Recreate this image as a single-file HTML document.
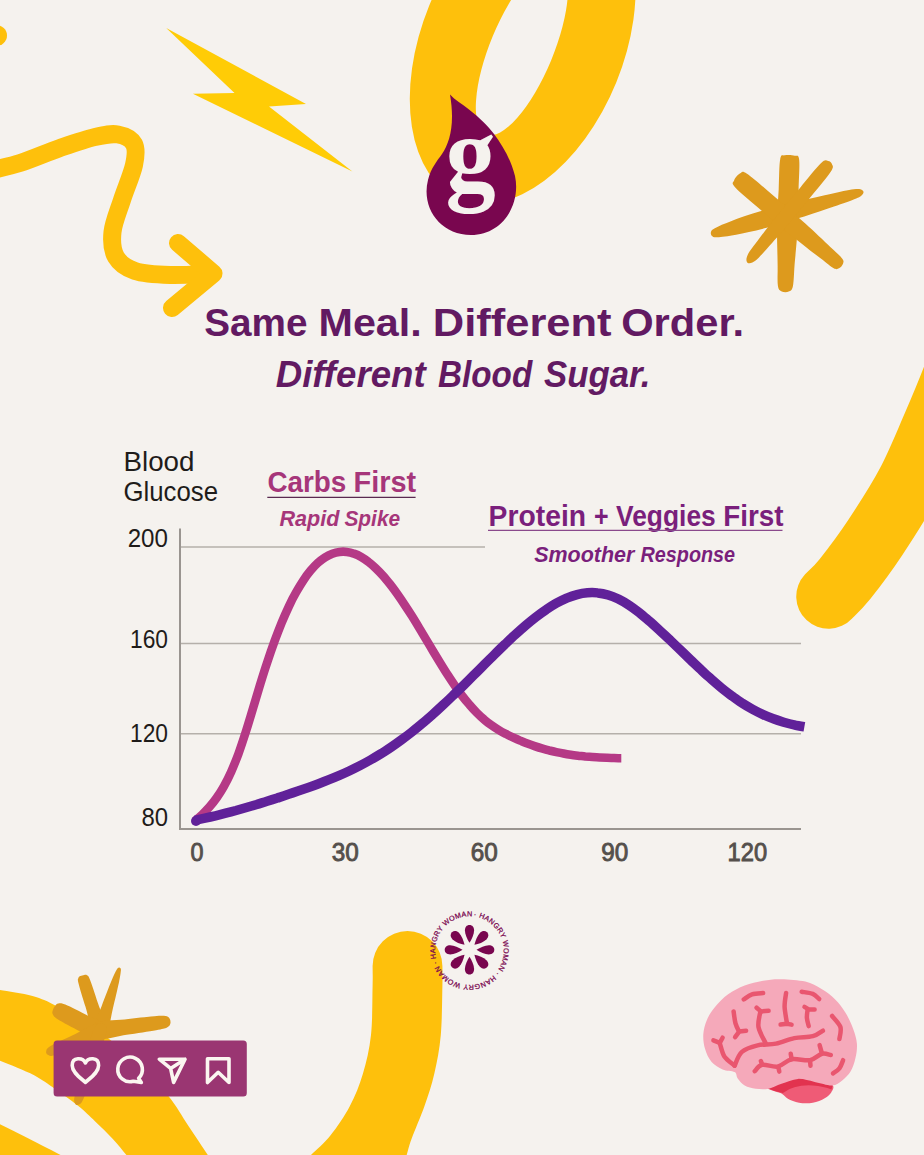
<!DOCTYPE html>
<html lang="en"><head><meta charset="utf-8"><title>Same Meal. Different Order.</title>
<style>
html,body{margin:0;padding:0;background:#f5f2ee;}
body{width:924px;height:1155px;overflow:hidden;font-family:"Liberation Sans",sans-serif;}
svg{display:block}
</style></head><body>
<svg width="924" height="1155" viewBox="0 0 924 1155">
<rect width="924" height="1155" fill="#f5f2ee"/>
<ellipse cx="-4" cy="35.5" rx="11" ry="10.5" fill="#fec00c"/>
<path d="M-12.0 171.0 C-6.7 169.7 8.0 166.8 20.0 163.0 C32.0 159.2 47.5 152.3 60.0 148.0 C72.5 143.7 85.3 139.2 95.0 137.0 C104.7 134.8 111.5 133.3 118.0 134.5 C124.5 135.7 131.3 138.9 134.0 144.0 C136.7 149.1 136.0 155.7 134.0 165.0 C132.0 174.3 125.6 188.8 122.0 200.0 C118.4 211.2 113.5 222.5 112.5 232.0 C111.5 241.5 112.2 250.5 116.0 257.0 C119.8 263.5 126.0 268.0 135.0 271.0 C144.0 274.0 157.3 274.6 170.0 275.0 C182.7 275.4 204.2 273.8 211.0 273.5" fill="none" stroke="#fec00c" stroke-width="18" stroke-linecap="round" stroke-linejoin="round"/>
<path d="M178 243 L213.5 273.5 L172 308" fill="none" stroke="#fec00c" stroke-width="18" stroke-linecap="round" stroke-linejoin="round"/>
<polygon points="166.2,27.9 306,104 269,106.4 352.4,171.4 192.9,93.8 234.5,92.9" fill="#ffcc06"/>
<ellipse cx="522.7" cy="44.1" rx="167.4" ry="101.1" transform="rotate(-67.86 522.7 44.1)" fill="#fec00c"/>
<ellipse cx="521.9" cy="48.3" rx="93.2" ry="31.6" transform="rotate(-67.5 521.9 48.3)" fill="#f5f2ee"/>
<path d="M828.5 596.5 C831.2 593.6 837.2 588.8 845.0 579.0 C852.8 569.2 864.8 553.4 875.3 537.5 C885.8 521.6 898.4 502.4 908.2 483.8 C918.1 465.2 926.6 443.8 934.4 426.0 C942.1 408.2 947.9 394.5 954.7 376.8 C961.5 359.1 971.6 329.5 975.0 320.0" fill="none" stroke="#fec00c" stroke-width="64.5" stroke-linecap="round"/>
<path d="M372.6 966 A34.9 34.9 0 0 1 442.4 966  C442.4 969.3 442.7 974.5 442.4 986.0 C442.1 997.5 442.1 1020.4 440.8 1035.0 C439.5 1049.6 437.0 1062.0 434.3 1073.8 C431.6 1085.6 428.3 1095.2 424.5 1106.0 C420.7 1116.8 414.6 1130.6 411.6 1138.8 C408.6 1147.0 408.1 1150.5 406.7 1155.0 C405.3 1159.5 403.6 1164.2 403.0 1166.0 L300 1166  C301.8 1164.2 305.9 1160.1 311.0 1155.0 C316.1 1149.9 323.9 1143.7 330.4 1135.5 C336.9 1127.3 344.5 1116.3 349.9 1106.0 C355.3 1095.7 359.4 1085.6 362.9 1073.8 C366.4 1062.0 369.4 1049.6 371.0 1035.0 C372.6 1020.4 372.3 997.5 372.6 986.0 C372.9 974.5 372.6 969.3 372.6 966.0 Z" fill="#fec00c"/>
<path d="M-10.0 988.0 C-8.3 988.3 -7.1 988.7 0.0 990.0 C7.1 991.3 22.8 993.2 32.5 996.0 C42.2 998.8 47.1 1001.0 58.4 1007.0 C69.7 1013.0 86.4 1022.2 100.0 1032.0 C113.6 1041.8 128.5 1055.2 140.0 1066.0 C151.5 1076.8 160.8 1086.6 168.8 1096.6 C176.9 1106.6 181.8 1116.1 188.3 1125.8 C194.8 1135.5 203.5 1148.5 207.8 1155.0 C212.1 1161.5 213.0 1163.3 214.0 1165.0 L134 1165  C132.7 1163.3 130.0 1159.4 126.4 1155.0 C122.8 1150.6 117.8 1144.3 112.6 1138.7 C107.4 1133.1 101.0 1126.9 95.2 1121.4 C89.4 1115.9 85.2 1111.6 78.0 1105.8 C70.8 1100.0 59.2 1091.8 52.0 1086.8 C44.8 1081.8 40.4 1078.7 34.6 1075.5 C28.8 1072.3 23.1 1070.2 17.3 1067.7 C11.5 1065.2 4.5 1062.5 0.0 1060.8 C-4.5 1059.1 -8.3 1058.0 -10.0 1057.5 Z" fill="#fec00c"/>
<path d="M-10 1119.5 C8 1128 36 1142 70 1160 L-10 1160Z" fill="#fec00c"/>
<path d="M784.8 155.3 C782.4 155.9 781.2 153.6 780.2 159.3 C779.1 164.9 779.2 178.5 778.7 189.2 C778.1 199.8 777.2 210.7 777.0 223.1 C776.8 235.6 777.5 253.6 777.6 264.0 C777.8 274.5 777.2 281.2 777.9 285.8 C778.6 290.4 779.9 290.4 781.7 291.4 C783.5 292.4 786.8 292.5 788.7 291.6 C790.6 290.8 791.9 290.8 792.9 286.3 C793.9 281.8 793.8 275.0 794.6 264.6 C795.5 254.2 797.3 236.3 798.0 223.9 C798.7 211.4 798.5 200.5 798.6 189.8 C798.8 179.2 799.8 165.6 799.2 159.9 C798.5 154.2 797.2 156.4 794.8 155.7 C792.4 154.9 787.2 154.7 784.8 155.3Z" fill="#dd9a1d"/>
<path d="M712.0 235.9 C713.1 236.8 713.3 237.5 717.3 237.3 C721.3 237.1 727.9 236.3 736.1 234.7 C744.3 233.0 755.3 230.7 766.7 227.7 C778.1 224.6 793.0 219.9 804.3 216.4 C815.5 212.9 825.4 209.5 834.0 206.5 C842.7 203.5 851.4 200.6 856.2 198.5 C861.1 196.4 862.1 195.2 863.0 193.7 C864.0 192.3 863.5 190.6 862.0 189.9 C860.4 189.1 858.9 188.7 853.7 189.3 C848.4 190.0 839.5 192.0 830.6 194.0 C821.6 195.9 811.4 198.2 799.9 201.0 C788.5 203.8 773.3 207.5 762.0 210.8 C750.7 214.1 740.1 217.8 732.2 220.7 C724.3 223.6 718.3 226.3 714.8 228.2 C711.2 230.1 711.4 230.8 711.0 232.1 C710.5 233.4 711.0 235.1 712.0 235.9Z" fill="#dd9a1d"/>
<path d="M734.1 180.4 C733.3 182.7 730.7 182.3 735.3 187.4 C740.0 192.5 752.3 202.6 762.0 210.9 C771.7 219.2 783.8 229.3 793.5 237.2 C803.3 245.1 813.8 253.2 820.5 258.3 C827.2 263.5 830.6 266.6 833.7 268.3 C836.7 269.9 837.5 269.0 839.0 268.3 C840.6 267.5 842.4 265.4 843.0 263.7 C843.5 262.1 844.2 261.2 842.1 258.4 C840.0 255.6 836.4 252.8 830.3 247.0 C824.1 241.1 814.6 232.0 805.3 223.6 C795.9 215.2 784.1 204.8 774.4 196.5 C764.7 188.2 752.8 177.5 747.0 173.7 C741.3 169.9 742.1 172.5 739.9 173.6 C737.8 174.7 734.8 178.1 734.1 180.4Z" fill="#dd9a1d"/>
<path d="M828.1 160.9 C826.2 160.8 825.6 158.8 820.9 163.3 C816.2 167.8 807.6 178.8 800.0 187.9 C792.4 197.0 782.8 208.5 775.4 217.7 C768.0 227.0 760.2 237.2 755.7 243.3 C751.1 249.3 749.8 250.9 748.2 253.8 C746.7 256.8 746.2 259.2 746.5 260.7 C746.7 262.3 748.0 263.4 749.5 263.3 C751.1 263.2 753.4 262.3 756.0 260.2 C758.5 258.1 759.9 256.5 764.9 250.9 C770.0 245.3 778.6 235.7 786.2 226.7 C793.8 217.6 803.3 206.0 810.8 196.8 C818.3 187.6 827.4 177.1 830.9 171.6 C834.4 166.2 832.4 165.9 831.9 164.1 C831.5 162.3 829.9 161.0 828.1 160.9Z" fill="#dd9a1d"/>
<path d="M107.2 1032.0 C107.7 1026.5 100.7 1011.5 97.8 1002.8 C95.0 994.0 91.7 984.1 89.9 979.5 C88.1 974.9 87.9 976.1 87.0 975.3 C86.0 974.5 85.3 974.8 84.2 974.9 C83.1 975.0 81.4 975.6 80.4 976.1 C79.4 976.6 78.7 976.9 78.4 978.0 C78.1 979.2 77.3 978.4 78.5 983.2 C79.6 988.0 82.7 997.9 85.5 1006.7 C88.2 1015.5 91.2 1031.8 94.8 1036.0 C98.4 1040.2 106.7 1037.6 107.2 1032.0Z" fill="#dd9a1d"/>
<path d="M105.7 1036.1 C109.1 1032.3 110.5 1018.3 112.7 1009.3 C114.9 1000.3 117.6 988.6 119.0 982.3 C120.3 976.0 120.6 973.6 120.8 971.3 C121.1 969.0 120.8 968.9 120.5 968.3 C120.1 967.7 119.2 967.4 118.5 967.7 C117.9 968.0 117.7 967.9 116.5 970.0 C115.4 972.0 114.3 974.1 111.8 980.1 C109.3 986.1 105.0 997.3 101.7 1005.9 C98.5 1014.5 91.7 1026.9 92.3 1031.9 C93.0 1037.0 102.3 1039.8 105.7 1036.1Z" fill="#dd9a1d"/>
<path d="M107.9 1026.5 C105.9 1022.2 95.1 1019.5 88.0 1015.8 C80.9 1012.2 70.3 1006.6 65.3 1004.6 C60.3 1002.5 60.0 1003.3 58.3 1003.5 C56.6 1003.7 56.1 1004.7 55.2 1005.8 C54.2 1006.9 53.3 1008.8 52.8 1010.2 C52.4 1011.6 51.9 1012.6 52.7 1014.1 C53.5 1015.6 53.2 1016.3 57.7 1019.2 C62.2 1022.1 72.9 1027.6 80.0 1031.4 C87.0 1035.1 95.4 1042.4 100.1 1041.5 C104.7 1040.7 109.9 1030.7 107.9 1026.5Z" fill="#dd9a1d"/>
<path d="M97.0 1038.9 C102.3 1040.9 116.8 1036.3 126.6 1034.8 C136.5 1033.3 149.4 1031.4 156.1 1030.2 C162.8 1029.0 164.7 1028.6 167.0 1027.5 C169.4 1026.4 169.9 1025.2 170.3 1023.8 C170.8 1022.3 170.5 1020.1 169.7 1018.8 C168.9 1017.5 168.1 1016.5 165.6 1016.1 C163.0 1015.7 161.1 1015.7 154.3 1016.3 C147.5 1016.9 134.5 1018.3 124.6 1019.4 C114.7 1020.6 99.6 1019.8 95.0 1023.1 C90.4 1026.3 91.8 1037.0 97.0 1038.9Z" fill="#dd9a1d"/>
<path d="M99.4 1023.0 C94.0 1023.1 80.3 1031.7 72.1 1035.5 C64.0 1039.3 54.8 1043.4 50.5 1046.0 C46.2 1048.6 46.7 1049.7 46.2 1051.2 C45.8 1052.6 46.4 1054.2 47.8 1054.8 C49.2 1055.5 49.6 1056.6 54.5 1055.2 C59.3 1053.8 68.5 1049.9 76.9 1046.5 C85.2 1043.1 100.8 1038.9 104.6 1035.0 C108.3 1031.0 104.8 1023.0 99.4 1023.0Z" fill="#dd9a1d"/>
<path d="M95.3 1026.2 C91.5 1031.9 87.2 1052.9 83.8 1064.3 C80.4 1075.8 76.3 1088.5 74.9 1095.0 C73.4 1101.5 74.4 1101.8 75.1 1103.4 C75.8 1105.0 77.4 1105.5 78.9 1104.6 C80.4 1103.7 81.4 1104.0 83.9 1097.8 C86.5 1091.7 90.4 1079.0 94.2 1067.7 C98.0 1056.3 106.5 1036.7 106.7 1029.8 C106.9 1022.9 99.1 1020.4 95.3 1026.2Z" fill="#dd9a1d"/>
<path d="M450 94.5 C455 100 462 104 469 109.5 C480 118 488 126 494 134 C503 146 511 160 515 176 C521 204 503 235 471 235 C440 235 421 208 428 180 C431 168 437 161 442 154 C450 142 455 124 450 94.5Z" fill="#79064f"/>
<text transform="translate(470.5 189.5) scale(0.93 1)" text-anchor="middle" font-family="Liberation Serif, serif" font-weight="bold" font-size="108" fill="#f5f2ee">g</text>
<text y="336" font-family="Liberation Sans, sans-serif" font-weight="bold" font-style="normal" font-size="39" fill="#621a62"><tspan x="204.2" textLength="103.3" lengthAdjust="spacingAndGlyphs">Same</tspan> <tspan x="318.5" textLength="103.3" lengthAdjust="spacingAndGlyphs">Meal.</tspan> <tspan x="432.8" textLength="178.8" lengthAdjust="spacingAndGlyphs">Different</tspan> <tspan x="621.2" textLength="122.8" lengthAdjust="spacingAndGlyphs">Order.</tspan></text>
<text y="387.4" font-family="Liberation Sans, sans-serif" font-weight="bold" font-style="italic" font-size="36.3" fill="#621a62"><tspan x="275.7" textLength="149.9" lengthAdjust="spacingAndGlyphs">Different</tspan> <tspan x="438.1" textLength="94.1" lengthAdjust="spacingAndGlyphs">Blood</tspan> <tspan x="544.0" textLength="106.4" lengthAdjust="spacingAndGlyphs">Sugar.</tspan></text>
<line x1="180" y1="547" x2="485" y2="547" stroke="#b5b0aa" stroke-width="1.6"/>
<line x1="180" y1="643.5" x2="801" y2="643.5" stroke="#b5b0aa" stroke-width="1.6"/>
<line x1="180" y1="733.7" x2="801" y2="733.7" stroke="#b5b0aa" stroke-width="1.6"/>
<path d="M180 528.5 V829 H801" fill="none" stroke="#9a9590" stroke-width="2"/>
<text x="123.5" y="471.4" textLength="71" lengthAdjust="spacingAndGlyphs" font-family="Liberation Sans, sans-serif" font-size="28.2" fill="#1f1c1a">Blood</text>
<text x="123.5" y="501.3" textLength="94.5" lengthAdjust="spacingAndGlyphs" font-family="Liberation Sans, sans-serif" font-size="28.2" fill="#1f1c1a">Glucose</text>
<text x="127.7" y="546.5" textLength="40.3" lengthAdjust="spacingAndGlyphs" font-family="Liberation Sans, sans-serif" font-size="25" fill="#1f1c1a">200</text>
<text x="130" y="648" textLength="38.0" lengthAdjust="spacingAndGlyphs" font-family="Liberation Sans, sans-serif" font-size="25" fill="#1f1c1a">160</text>
<text x="130" y="742" textLength="38.0" lengthAdjust="spacingAndGlyphs" font-family="Liberation Sans, sans-serif" font-size="25" fill="#1f1c1a">120</text>
<text x="141.4" y="826" textLength="26.6" lengthAdjust="spacingAndGlyphs" font-family="Liberation Sans, sans-serif" font-size="25" fill="#1f1c1a">80</text>
<text x="190.5" y="861.2" textLength="13" lengthAdjust="spacingAndGlyphs" font-family="Liberation Sans, sans-serif" font-size="25" fill="#55504c" stroke="#55504c" stroke-width="0.9">0</text>
<text x="331.7" y="861.2" textLength="27" lengthAdjust="spacingAndGlyphs" font-family="Liberation Sans, sans-serif" font-size="25" fill="#55504c" stroke="#55504c" stroke-width="0.9">30</text>
<text x="470.7" y="861.2" textLength="27" lengthAdjust="spacingAndGlyphs" font-family="Liberation Sans, sans-serif" font-size="25" fill="#55504c" stroke="#55504c" stroke-width="0.9">60</text>
<text x="601.3" y="861.2" textLength="27" lengthAdjust="spacingAndGlyphs" font-family="Liberation Sans, sans-serif" font-size="25" fill="#55504c" stroke="#55504c" stroke-width="0.9">90</text>
<text x="727.6" y="861.2" textLength="39.5" lengthAdjust="spacingAndGlyphs" font-family="Liberation Sans, sans-serif" font-size="25" fill="#55504c" stroke="#55504c" stroke-width="0.9">120</text>
<path d="M195.0 820.8 C196.2 819.8 199.8 816.8 202.2 814.5 C204.6 812.2 207.0 809.7 209.5 806.9 C211.9 804.2 214.3 801.3 216.7 797.8 C219.1 794.4 221.5 790.7 223.9 786.4 C226.3 782.1 228.7 777.4 231.1 772.0 C233.5 766.5 235.9 760.5 238.4 753.9 C240.8 747.3 243.2 740.0 245.6 732.5 C248.0 725.0 250.4 716.9 252.8 709.0 C255.2 701.1 257.6 692.9 260.0 685.1 C262.4 677.3 264.8 669.5 267.3 662.2 C269.7 654.9 272.1 647.9 274.5 641.3 C276.9 634.7 279.3 628.5 281.7 622.6 C284.1 616.8 286.5 611.4 288.9 606.3 C291.3 601.2 293.7 596.5 296.2 592.2 C298.6 587.9 301.0 583.9 303.4 580.3 C305.8 576.7 308.2 573.5 310.6 570.6 C313.0 567.7 315.4 565.1 317.8 562.9 C320.2 560.7 322.6 558.9 325.1 557.3 C327.5 555.8 329.9 554.6 332.3 553.7 C334.7 552.8 337.1 552.2 339.5 551.9 C341.9 551.6 344.3 551.6 346.7 551.9 C349.1 552.2 351.6 552.8 354.0 553.7 C356.4 554.5 358.8 555.6 361.2 557.0 C363.6 558.4 366.0 560.0 368.4 561.9 C370.8 563.7 373.2 565.8 375.6 568.1 C378.0 570.4 380.5 572.9 382.9 575.6 C385.3 578.3 387.7 581.3 390.1 584.3 C392.5 587.4 394.9 590.6 397.3 594.0 C399.7 597.4 402.1 600.9 404.5 604.6 C406.9 608.2 409.4 612.0 411.8 615.8 C414.2 619.6 416.6 623.6 419.0 627.6 C421.4 631.5 423.8 635.6 426.2 639.6 C428.6 643.6 431.0 647.7 433.4 651.7 C435.8 655.7 438.3 659.7 440.7 663.7 C443.1 667.6 445.5 671.5 447.9 675.2 C450.3 678.9 452.7 682.6 455.1 686.0 C457.5 689.5 459.9 692.9 462.3 696.0 C464.7 699.2 467.2 702.1 469.6 704.9 C472.0 707.7 474.4 710.3 476.8 712.7 C479.2 715.1 481.6 717.4 484.0 719.4 C486.4 721.5 488.8 723.3 491.2 725.0 C493.7 726.8 496.1 728.3 498.5 729.8 C500.9 731.3 503.3 732.6 505.7 733.8 C508.1 735.1 510.5 736.3 512.9 737.4 C515.3 738.5 517.7 739.6 520.1 740.6 C522.6 741.6 525.0 742.6 527.4 743.5 C529.8 744.4 532.2 745.3 534.6 746.1 C537.0 746.9 539.4 747.7 541.8 748.4 C544.2 749.1 546.6 749.8 549.0 750.4 C551.5 751.0 553.9 751.6 556.3 752.1 C558.7 752.6 561.1 753.1 563.5 753.5 C565.9 754.0 568.3 754.4 570.7 754.7 C573.1 755.1 575.5 755.4 577.9 755.7 C580.4 756.0 582.8 756.2 585.2 756.5 C587.6 756.7 590.0 756.9 592.4 757.0 C594.8 757.2 597.2 757.4 599.6 757.5 C602.0 757.6 604.4 757.7 606.8 757.8 C609.3 757.9 611.7 758.0 614.1 758.0 C616.5 758.1 620.1 758.2 621.3 758.2" fill="none" stroke="#b53986" stroke-width="8.6"/>
<path d="M194.7 820.4 C196.4 820.1 201.6 819.0 205.0 818.2 C208.5 817.4 211.9 816.6 215.4 815.8 C218.8 815.0 222.3 814.1 225.7 813.2 C229.1 812.3 232.6 811.4 236.0 810.5 C239.5 809.5 242.9 808.5 246.4 807.5 C249.8 806.5 253.3 805.5 256.7 804.5 C260.1 803.4 263.6 802.4 267.0 801.3 C270.5 800.2 273.9 799.1 277.4 798.0 C280.8 796.9 284.3 795.8 287.7 794.6 C291.1 793.5 294.6 792.3 298.0 791.1 C301.5 789.9 304.9 788.7 308.4 787.5 C311.8 786.3 315.3 785.0 318.7 783.7 C322.2 782.4 325.6 781.1 329.0 779.7 C332.5 778.3 335.9 776.9 339.4 775.4 C342.8 773.9 346.3 772.3 349.7 770.7 C353.2 769.1 356.6 767.4 360.0 765.6 C363.5 763.8 366.9 762.0 370.4 760.0 C373.8 758.1 377.3 756.0 380.7 753.9 C384.2 751.8 387.6 749.5 391.0 747.2 C394.5 744.9 397.9 742.5 401.4 739.9 C404.8 737.4 408.3 734.8 411.7 732.1 C415.2 729.4 418.6 726.5 422.0 723.7 C425.5 720.8 428.9 717.8 432.4 714.7 C435.8 711.7 439.3 708.5 442.7 705.3 C446.2 702.1 449.6 698.9 453.0 695.5 C456.5 692.2 459.9 688.9 463.4 685.5 C466.8 682.1 470.3 678.6 473.7 675.2 C477.2 671.8 480.6 668.3 484.0 664.9 C487.5 661.4 490.9 658.0 494.4 654.6 C497.8 651.2 501.3 647.8 504.7 644.5 C508.2 641.2 511.6 637.9 515.1 634.8 C518.5 631.7 521.9 628.6 525.4 625.6 C528.8 622.7 532.3 619.8 535.7 617.2 C539.2 614.5 542.6 612.0 546.1 609.7 C549.5 607.3 552.9 605.2 556.4 603.2 C559.8 601.3 563.3 599.6 566.7 598.1 C570.2 596.7 573.6 595.5 577.1 594.6 C580.5 593.7 583.9 593.1 587.4 592.8 C590.8 592.5 594.3 592.5 597.7 592.9 C601.2 593.2 604.6 593.9 608.1 595.0 C611.5 596.0 614.9 597.4 618.4 599.0 C621.8 600.7 625.3 602.7 628.7 604.9 C632.2 607.2 635.6 609.7 639.1 612.4 C642.5 615.1 645.9 618.1 649.4 621.1 C652.8 624.1 656.3 627.3 659.7 630.4 C663.2 633.6 666.6 636.9 670.1 640.1 C673.5 643.4 676.9 646.7 680.4 650.0 C683.8 653.3 687.3 656.7 690.7 660.0 C694.2 663.3 697.6 666.6 701.1 669.8 C704.5 673.1 708.0 676.2 711.4 679.3 C714.8 682.3 718.3 685.3 721.7 688.1 C725.2 690.9 728.6 693.6 732.1 696.1 C735.5 698.7 739.0 701.0 742.4 703.3 C745.8 705.5 749.3 707.5 752.7 709.4 C756.2 711.3 759.6 713.0 763.1 714.6 C766.5 716.2 770.0 717.6 773.4 718.8 C776.8 720.1 780.3 721.2 783.7 722.2 C787.2 723.2 790.6 724.1 794.1 724.8 C797.5 725.6 802.7 726.5 804.4 726.8" fill="none" stroke="#602199" stroke-width="9.5"/>
<circle cx="196" cy="821" r="5" fill="#602199"/>
<text y="491.8" font-family="Liberation Sans, sans-serif" font-weight="bold" font-style="normal" font-size="29.7" fill="#a6367a"><tspan x="267.4" textLength="78.9" lengthAdjust="spacingAndGlyphs">Carbs</tspan> <tspan x="353.5" textLength="62.6" lengthAdjust="spacingAndGlyphs">First</tspan></text>
<line x1="267.3" y1="497.4" x2="415.6" y2="497.4" stroke="#5a2a50" stroke-width="1.4"/>
<text y="526" font-family="Liberation Sans, sans-serif" font-weight="bold" font-style="italic" font-size="22.7" fill="#a6367a"><tspan x="279.5" textLength="60.0" lengthAdjust="spacingAndGlyphs">Rapid</tspan> <tspan x="344.4" textLength="55.8" lengthAdjust="spacingAndGlyphs">Spike</tspan></text>
<text y="526.1" font-family="Liberation Sans, sans-serif" font-weight="bold" font-style="normal" font-size="29.4" fill="#7a1f7c"><tspan x="488.6" textLength="97.5" lengthAdjust="spacingAndGlyphs">Protein</tspan> <tspan x="594.0" textLength="14.6" lengthAdjust="spacingAndGlyphs">+</tspan> <tspan x="616.1" textLength="99.6" lengthAdjust="spacingAndGlyphs">Veggies</tspan> <tspan x="723.3" textLength="60.3" lengthAdjust="spacingAndGlyphs">First</tspan></text>
<line x1="488" y1="530.4" x2="782.5" y2="530.4" stroke="#8a4a8c" stroke-width="1.4"/>
<text y="561.8" font-family="Liberation Sans, sans-serif" font-weight="bold" font-style="italic" font-size="22.2" fill="#7a1f7c"><tspan x="534.2" textLength="100.2" lengthAdjust="spacingAndGlyphs">Smoother</tspan> <tspan x="640.6" textLength="94.5" lengthAdjust="spacingAndGlyphs">Response</tspan></text>
<defs><path id="ring" d="M469.5 916.3 A34.3 34.3 0 1 1 469.49 916.3"/></defs>
<g transform="rotate(7 469.5 950.5999999999999)"><text font-family="Liberation Sans, sans-serif" font-weight="normal" font-size="7.2" fill="#79064f" stroke="#79064f" stroke-width="0.25" letter-spacing="1.3"><textPath href="#ring" textLength="214.5" lengthAdjust="spacing">· HANGRY WOMAN · HANGRY WOMAN · HANGRY WOMAN </textPath></text></g>
<path d="M0 -7 C2.2 -10.5 4.6 -15.5 4.6 -19.3 C4.6 -22.7 2.8 -24.8 0 -24.8 C-2.8 -24.8 -4.6 -22.7 -4.6 -19.3 C-4.6 -15.5 -2.2 -10.5 0 -7Z" transform="translate(469.5 949.8) rotate(0)" fill="#79064f"/>
<path d="M0 -7 C2.2 -10.5 4.6 -15.5 4.6 -19.3 C4.6 -22.7 2.8 -24.8 0 -24.8 C-2.8 -24.8 -4.6 -22.7 -4.6 -19.3 C-4.6 -15.5 -2.2 -10.5 0 -7Z" transform="translate(469.5 949.8) rotate(45)" fill="#79064f"/>
<path d="M0 -7 C2.2 -10.5 4.6 -15.5 4.6 -19.3 C4.6 -22.7 2.8 -24.8 0 -24.8 C-2.8 -24.8 -4.6 -22.7 -4.6 -19.3 C-4.6 -15.5 -2.2 -10.5 0 -7Z" transform="translate(469.5 949.8) rotate(90)" fill="#79064f"/>
<path d="M0 -7 C2.2 -10.5 4.6 -15.5 4.6 -19.3 C4.6 -22.7 2.8 -24.8 0 -24.8 C-2.8 -24.8 -4.6 -22.7 -4.6 -19.3 C-4.6 -15.5 -2.2 -10.5 0 -7Z" transform="translate(469.5 949.8) rotate(135)" fill="#79064f"/>
<path d="M0 -7 C2.2 -10.5 4.6 -15.5 4.6 -19.3 C4.6 -22.7 2.8 -24.8 0 -24.8 C-2.8 -24.8 -4.6 -22.7 -4.6 -19.3 C-4.6 -15.5 -2.2 -10.5 0 -7Z" transform="translate(469.5 949.8) rotate(180)" fill="#79064f"/>
<path d="M0 -7 C2.2 -10.5 4.6 -15.5 4.6 -19.3 C4.6 -22.7 2.8 -24.8 0 -24.8 C-2.8 -24.8 -4.6 -22.7 -4.6 -19.3 C-4.6 -15.5 -2.2 -10.5 0 -7Z" transform="translate(469.5 949.8) rotate(225)" fill="#79064f"/>
<path d="M0 -7 C2.2 -10.5 4.6 -15.5 4.6 -19.3 C4.6 -22.7 2.8 -24.8 0 -24.8 C-2.8 -24.8 -4.6 -22.7 -4.6 -19.3 C-4.6 -15.5 -2.2 -10.5 0 -7Z" transform="translate(469.5 949.8) rotate(270)" fill="#79064f"/>
<path d="M0 -7 C2.2 -10.5 4.6 -15.5 4.6 -19.3 C4.6 -22.7 2.8 -24.8 0 -24.8 C-2.8 -24.8 -4.6 -22.7 -4.6 -19.3 C-4.6 -15.5 -2.2 -10.5 0 -7Z" transform="translate(469.5 949.8) rotate(315)" fill="#79064f"/>
<rect x="53.6" y="1040.4" width="193.2" height="56.2" rx="3.5" fill="#9a3672"/>
<path d="M85.4 1063 C83 1057.5 72.2 1056.5 72.2 1065.5 C72.2 1072.5 80 1077.5 85.4 1082.3 C90.8 1077.5 98.6 1072.5 98.6 1065.5 C98.6 1056.5 87.8 1057.5 85.4 1063Z" fill="none" stroke="#fbf6f0" stroke-width="3.6" stroke-linejoin="round" stroke-linecap="round"/>
<path d="M138.6 1078.3 A12.3 12.3 0 1 0 133.3 1081.3 L141.3 1082.4 Z" fill="none" stroke="#fbf6f0" stroke-width="3.6" stroke-linejoin="round" stroke-linecap="round"/>
<path d="M159.3 1059.2 H185 L173.6 1082.4 L170.6 1068.4 Z M170.6 1068.4 L185 1059.2" fill="none" stroke="#fbf6f0" stroke-width="3.6" stroke-linejoin="round" stroke-linecap="round"/>
<path d="M207.5 1058.8 H229 V1082.5 L218.2 1072.3 L207.5 1082.5 Z" fill="none" stroke="#fbf6f0" stroke-width="3.6" stroke-linejoin="round" stroke-linecap="round"/>
<path d="M767.3 1087.8 C767.3 1085.9 776.4 1084.2 781.5 1082.6 C786.6 1081.0 792.2 1078.5 798.0 1078.2 C803.9 1077.9 810.7 1079.8 816.4 1080.9 C822.2 1082.1 830.0 1083.3 832.4 1085.2 C834.9 1087.1 832.4 1090.2 831.2 1092.4 C829.9 1094.5 827.8 1096.5 824.7 1098.2 C821.6 1100.0 817.0 1102.1 812.8 1102.8 C808.5 1103.6 803.1 1103.5 799.0 1102.8 C794.8 1102.2 790.8 1100.3 787.9 1098.8 C785.0 1097.3 784.9 1095.5 781.5 1093.6 C778.0 1091.8 767.3 1089.6 767.3 1087.8Z" fill="#ef5b76"/>
<path d="M767.3 1087.8 Q781.5 1082.2 798.0 1078.0 Q816.4 1080.4 832.6 1085.2 L831.5 1089.6 Q823.8 1086.3 812.8 1085.5 Q794.4 1084.4 782.9 1092.9 Q774.1 1091.8 767.3 1087.8Z" fill="#e2334f"/>
<path d="M781.5 979.2 C788.5 979.4 798.7 980.0 805.4 981.6 C812.1 983.2 816.6 986.0 821.6 989.0 C826.6 991.9 831.2 995.5 835.2 999.4 C839.2 1003.4 842.5 1007.8 845.5 1012.7 C848.5 1017.6 851.3 1023.7 853.2 1028.9 C855.1 1034.0 856.5 1038.7 856.9 1043.6 C857.3 1048.5 856.5 1053.7 855.4 1058.3 C854.4 1062.9 852.9 1067.5 850.7 1071.2 C848.4 1074.9 845.3 1078.0 842.2 1080.4 C839.1 1082.8 836.7 1085.1 832.1 1085.4 C827.5 1085.6 820.3 1082.9 814.6 1081.9 C808.9 1080.8 803.6 1078.6 798.0 1078.9 C792.5 1079.2 786.4 1082.1 781.5 1083.7 C776.6 1085.3 772.9 1087.8 768.6 1088.7 C764.3 1089.5 759.7 1089.2 755.7 1088.7 C751.7 1088.2 747.7 1087.2 744.7 1085.5 C741.7 1083.9 739.4 1080.8 737.7 1078.6 C736.0 1076.3 737.1 1073.6 734.6 1072.1 C732.0 1070.6 726.4 1071.0 722.6 1069.4 C718.8 1067.7 714.5 1065.4 711.6 1062.0 C708.6 1058.6 706.5 1053.7 705.1 1049.1 C703.7 1044.5 703.0 1039.3 703.3 1034.4 C703.6 1029.5 705.0 1024.3 707.0 1019.7 C709.0 1015.1 711.7 1011.0 715.2 1006.8 C718.8 1002.6 723.2 997.8 728.1 994.3 C733.0 990.8 738.9 987.9 744.7 985.6 C750.5 983.4 756.9 981.7 763.1 980.7 C769.2 979.6 774.4 979.0 781.5 979.2Z" fill="#f5a9ba"/>
<path d="M743.8 999.4 C745.1 998.6 748.8 995.4 752.0 994.3 C755.3 993.2 761.2 993.2 763.1 993.0" fill="none" stroke="#e9566f" stroke-width="4.5" stroke-linecap="round" stroke-linejoin="round"/>
<path d="M801.7 991.7 C803.6 992.1 809.8 992.7 812.8 993.9 C815.7 995.1 818.1 998.2 819.2 999.1" fill="none" stroke="#e9566f" stroke-width="4.5" stroke-linecap="round" stroke-linejoin="round"/>
<path d="M832.1 1016.0 C833.5 1017.8 839.1 1023.2 840.4 1027.0 C841.6 1030.9 839.6 1037.0 839.4 1039.0" fill="none" stroke="#e9566f" stroke-width="4.5" stroke-linecap="round" stroke-linejoin="round"/>
<path d="M843.1 1060.2 C842.5 1061.5 841.1 1066.2 839.4 1068.4 C837.7 1070.6 834.1 1072.6 833.0 1073.4" fill="none" stroke="#e9566f" stroke-width="4.5" stroke-linecap="round" stroke-linejoin="round"/>
<path d="M786.1 993.0 C785.8 995.3 784.5 1001.7 784.6 1006.8 C784.8 1011.9 786.6 1020.6 787.0 1023.4" fill="none" stroke="#e9566f" stroke-width="4.5" stroke-linecap="round" stroke-linejoin="round"/>
<path d="M780.6 1024.6 L787.0 1023.7 L791.6 1024.6" fill="none" stroke="#e9566f" stroke-width="4.5" stroke-linecap="round" stroke-linejoin="round"/>
<path d="M804.5 1006.8 L809.1 1009.6 L814.6 1009.6" fill="none" stroke="#e9566f" stroke-width="4.5" stroke-linecap="round" stroke-linejoin="round"/>
<path d="M807.6 1009.6 C807.5 1010.9 806.7 1015.1 806.9 1017.8 C807.1 1020.6 808.4 1024.7 808.7 1026.1" fill="none" stroke="#e9566f" stroke-width="4.5" stroke-linecap="round" stroke-linejoin="round"/>
<path d="M733.6 1011.4 C733.9 1013.4 734.6 1020.0 735.5 1023.4 C736.4 1026.7 738.5 1030.3 739.2 1031.6" fill="none" stroke="#e9566f" stroke-width="4.5" stroke-linecap="round" stroke-linejoin="round"/>
<path d="M735.1 1037.2 L739.2 1031.6 L746.1 1030.7" fill="none" stroke="#e9566f" stroke-width="4.5" stroke-linecap="round" stroke-linejoin="round"/>
<path d="M734.6 1065.7 C735.8 1063.4 738.1 1055.2 741.9 1051.9 C745.8 1048.5 751.9 1046.8 757.6 1045.4 C763.2 1044.1 769.8 1044.8 776.0 1043.6 C782.1 1042.4 788.2 1039.3 794.4 1038.1 C800.5 1036.9 808.0 1037.5 812.8 1036.2 C817.5 1035.0 821.2 1031.6 822.9 1030.7" fill="none" stroke="#e9566f" stroke-width="4.5" stroke-linecap="round" stroke-linejoin="round"/>
<path d="M756.6 1007.7 L760.9 1011.4 L768.6 1010.8" fill="none" stroke="#e9566f" stroke-width="4.5" stroke-linecap="round" stroke-linejoin="round"/>
<path d="M760.3 1012.0 C760.0 1014.5 757.6 1021.8 758.5 1027.0 C759.4 1032.3 764.6 1040.8 765.8 1043.6" fill="none" stroke="#e9566f" stroke-width="4.5" stroke-linecap="round" stroke-linejoin="round"/>
<path d="M734.6 1065.7 C732.9 1064.1 726.9 1060.2 724.4 1056.5 C722.0 1052.7 720.6 1045.4 719.8 1043.2" fill="none" stroke="#e9566f" stroke-width="4.5" stroke-linecap="round" stroke-linejoin="round"/>
<path d="M713.4 1040.3 L719.8 1042.9 L722.6 1037.7" fill="none" stroke="#e9566f" stroke-width="4.5" stroke-linecap="round" stroke-linejoin="round"/>
<path d="M754.8 1071.2 C756.0 1070.1 758.3 1065.5 762.2 1064.8 C766.0 1064.0 772.9 1067.5 777.8 1066.6 C782.7 1065.7 786.2 1060.3 791.6 1059.2 C797.0 1058.2 804.9 1061.1 810.0 1060.2 C815.1 1059.2 818.5 1054.6 822.0 1053.7 C825.4 1052.9 829.3 1054.8 830.8 1055.0" fill="none" stroke="#e9566f" stroke-width="4.5" stroke-linecap="round" stroke-linejoin="round"/>
<path d="M762.2 1064.8 L760.9 1061.1" fill="none" stroke="#e9566f" stroke-width="4.5" stroke-linecap="round" stroke-linejoin="round"/>
<path d="M778.2 1066.6 L779.3 1071.6" fill="none" stroke="#e9566f" stroke-width="4.5" stroke-linecap="round" stroke-linejoin="round"/>
<path d="M791.6 1059.2 L790.7 1053.7" fill="none" stroke="#e9566f" stroke-width="4.5" stroke-linecap="round" stroke-linejoin="round"/>
<path d="M810.0 1060.2 L810.5 1065.7" fill="none" stroke="#e9566f" stroke-width="4.5" stroke-linecap="round" stroke-linejoin="round"/>
<path d="M822.0 1053.7 L819.6 1045.1" fill="none" stroke="#e9566f" stroke-width="4.5" stroke-linecap="round" stroke-linejoin="round"/>
</svg>
</body></html>
